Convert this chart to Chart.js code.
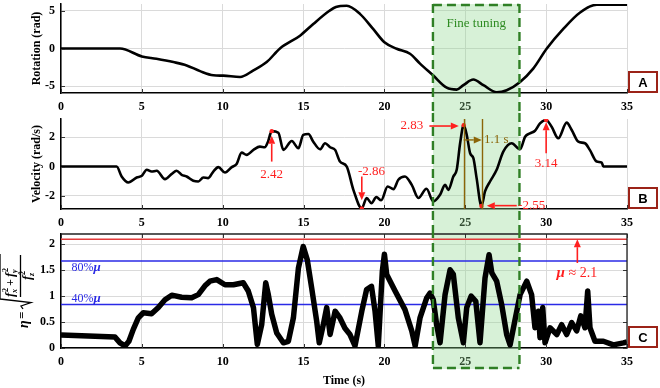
<!DOCTYPE html>
<html>
<head>
<meta charset="utf-8">
<title>Rotation, velocity and force ratio</title>
<script src="https://cdn.jsdelivr.net/npm/chart.js@4.4.1/dist/chart.umd.min.js"></script>
<style>
  html, body { margin: 0; padding: 0; background: #fff; }
  #wrap { position: relative; width: 660px; height: 388px; overflow: hidden; }
  #wrap canvas { position: absolute; left: 0; }
</style>
</head>
<body>
<div id="wrap">
  <canvas id="chartA" width="660" height="113" style="top:0"></canvas>
  <canvas id="chartB" width="660" height="116" style="top:113px"></canvas>
  <canvas id="chartC" width="660" height="159" style="top:229px"></canvas>
</div>
<script>
// tick labels
var timeTicks = [0, 5, 10, 15, 20, 25, 30, 35];
var rotTicks = [-5, 0, 5];
var velTicks = [-2, 0, 2];
var etaTicks = [0, 0.5, 1, 1.5, 2];

// panel A: rotation (rad)
var rotT = [0, 3.65, 5.0, 5.9, 6.95, 7.77, 8.6, 9.42, 10.04, 11.07, 11.9, 12.72, 13.54, 14.78, 15.6, 16.6, 17.0,
  17.67, 18.5, 19.3, 20.0, 20.76, 21.58, 22.2, 23.0, 23.85, 24.47, 24.88, 25.5, 26.12, 26.94, 27.56, 28.39,
  29.2, 30.04, 31.06, 32.1, 33.13, 35];
var rotV = [0, 0, -1.05, -1.36, -1.8, -2.24, -3.0, -3.55, -3.6, -3.78, -2.9, -1.8, 0, 1.7, 3.25, 5.0, 5.5,
  5.66, 4.56, 2.6, 0.83, -0.04, -0.7, -2.0, -3.55, -5.2, -5.45, -4.87, -4.12, -4.87, -5.8, -5.53, -4.43,
  -2.67, 0, 2.6, 4.78, 5.8, 5.8];

// panel B: velocity (rad/s)
var velT = [0, 3.44, 3.75, 4.16, 4.68, 5.0, 5.3, 5.6, 5.92, 6.43, 6.85, 7.15, 7.46, 7.77, 8.18, 8.49, 8.8, 9.1,
  9.42, 9.73, 10.14, 10.56, 10.86, 11.17, 11.48, 11.9, 12.3, 12.6, 12.8, 13.03, 13.44, 13.75, 14.27, 14.68,
  14.98, 15.3, 15.6, 16.02, 16.33, 16.64, 16.95, 17.25, 17.67, 18.08, 18.6, 18.9, 19.2, 19.5, 19.8, 20.2,
  20.56, 20.86, 21.27, 21.69, 22.1, 22.6, 23.02, 23.44, 23.75, 23.95, 24.26, 24.47, 24.68, 24.9, 25.09,
  25.3, 25.5, 25.7, 26.0, 26.22, 26.53, 26.94, 27.35, 27.87, 28.39, 28.7, 29.0, 29.31, 29.62, 30.0, 30.34,
  30.75, 31.27, 31.58, 31.99, 32.4, 32.7, 33.13, 33.44, 33.54, 35];
var velV = [0, 0, -0.68, -1.09, -0.75, -0.63, -0.22, -0.34, -0.29, -0.86, -0.5, -0.29, -0.56, -0.68, -0.97,
  -1.02, -0.75, -0.79, -0.34, -0.04, -0.41, -0.04, 0.18, 0.95, 0.8, 1.14, 1.36, 1.32, 1.7, 2.42, 2.31, 1.14,
  1.75, 1.25, 2.16, 2.22, 1.7, 1.18, 1.59, 1.32, 1.14, 0.34, 0, -1.59, -2.86, -2.15, -2.5, -2.09, -2.3,
  -1.36, -1.54, -0.9, -0.68, -1.25, -2.15, -1.52, -2.38, -1.93, -1.25, -1.59, -0.68, -0.22, 1.59, 2.83,
  2.16, 0.91, 0.57, -0.79, -2.7, -1.7, -1.02, -0.22, 1.02, 1.59, 1.18, 2.04, 2.27, 2.45, 2.95, 3.18, 2.72,
  1.93, 3.0, 2.5, 1.7, 1.59, 1.14, 0.34, 0.27, 0, 0];
// marked extremes
var peakT = [13.03, 18.6, 24.9, 26.0, 30.0];
var peakV = [2.42, -2.86, 2.83, -2.7, 3.18];

// panel C: eta
var etaT = [0, 1.69, 3.34, 3.65, 3.96, 4.2, 4.47, 4.78, 5.09, 5.6, 6.02, 6.43, 6.85, 7.46, 8.08, 8.49, 8.9,
  9.21, 9.63, 10.14, 10.66, 11.27, 11.58, 11.9, 12.14, 12.41, 12.66, 12.82, 13.03, 13.34, 13.75, 14.06,
  14.37, 14.68, 14.98, 15.23, 15.5, 15.81, 15.97, 16.22, 16.43, 16.64, 16.95, 17.25, 17.56, 17.87, 18.18,
  18.6, 18.9, 19.2, 19.42, 19.62, 19.87, 20.0, 20.14, 20.66, 21.27, 21.69, 21.9, 22.2, 22.62, 22.82, 23.02,
  23.23, 23.44, 23.75, 24.06, 24.26, 24.57, 24.88, 25.09, 25.36, 25.65, 25.91, 26.22, 26.47, 26.64, 26.94,
  27.25, 27.56, 27.77, 28.08, 28.39, 28.8, 29.1, 29.31, 29.52, 29.62, 29.79, 29.93, 30.24, 30.66, 30.96,
  31.27, 31.58, 31.89, 32.14, 32.4, 32.57, 32.71, 33.02, 33.54, 34.16, 34.78, 35];
var etaV = [0.25, 0.23, 0.21, 0.1, 0.04, 0.13, 0.36, 0.58, 0.68, 0.66, 0.78, 0.93, 1.02, 0.98, 0.97, 1.03, 1.2,
  1.29, 1.32, 1.22, 1.22, 1.26, 1.1, 0.78, 0.07, 0.45, 1.26, 1.03, 0.65, 0.29, 0.1, 0.13,
  0.58, 1.54, 1.96, 1.7, 1.16, 0.52, 0.1, 0.45, 0.78, 0.26, 0.71, 0.58, 0.38, 0.26, 0.04,
  0.71, 1.13, 1.19, 0.71, 0.04, 1.48, 1.81, 1.42, 1.1, 0.74, 0.33, 0.04, 0.58, 0.97, 1.06, 0.93,
  0.45, 0.1, 1.03, 1.51, 1.42, 0.58, 0.1, 0.78, 1.0, 0.9, 0.1, 1.35, 1.8, 1.45, 1.29,
  0.84, 0.26, 0.06, 0.55, 1.03, 1.29, 1.03, 0.39, 0.71, 0.2, 0.78, 0.1, 0.39, 0.26, 0.45,
  0.26, 0.49, 0.33, 0.62, 0.39, 1.1, 0.39, 0.13, 0.13, 0.06, 0.1, 0.12];
var mu = 2.1;
var mu80 = 1.68;
var mu40 = 0.84;

// fine tuning window (s)
var fineStart = 23.0;
var fineEnd = 28.35;

var SERIF = '"Liberation Serif", "Times New Roman", serif';
var RED = '#ff1f1f';
var BROWN = '#8b6508';
var BLUE = '#2a2ae6';

function pts(t, v) {
  return t.map(function (x, i) { return { x: x, y: v[i] }; });
}

function tickList(list) {
  return function (s) { s.ticks = list.map(function (v) { return { value: v }; }); };
}

function makeOptions(o) {
  return {
    responsive: false,
    animation: false,
    layout: { padding: { left: 0, right: 33, top: o.padTop, bottom: 0 } },
    plugins: { legend: { display: false }, tooltip: { enabled: false } },
    elements: { point: { radius: 0 } },
    scales: {
      x: {
        type: 'linear', min: 0, max: 35,
        afterBuildTicks: tickList(timeTicks),
        afterFit: function (s) { s.height = o.xHeight; s.paddingLeft = 0; s.paddingRight = 0; },
        grid: { color: '#dadada', drawTicks: false },
        border: { color: '#000', width: 1.5 },
        ticks: { padding: 7, color: '#000', font: { family: SERIF, size: 12, weight: 'bold' } },
        title: {
          display: !!o.xTitle, text: o.xTitle || '', color: '#000', padding: 0,
          font: { family: SERIF, size: 12, weight: 'bold' }
        }
      },
      y: {
        min: o.yMin, max: o.yMax,
        afterBuildTicks: tickList(o.yTicks),
        afterFit: function (s) { s.width = 61; s.paddingTop = 0; s.paddingBottom = 0; },
        grid: { color: '#dadada', drawTicks: false },
        border: { color: '#000', width: 1.5 },
        ticks: {
          padding: 6, color: '#000', font: { family: SERIF, size: 12, weight: 'bold' },
          callback: function (v) { return String(v); }
        },
        title: {
          display: !!o.yTitle, text: o.yTitle || '', color: '#000', padding: { top: 30, bottom: 0 },
          font: { family: SERIF, size: 12, weight: 'bold' }
        }
      }
    }
  };
}

function arrow(ctx, x1, y1, x2, y2, color, lw) {
  var ang = Math.atan2(y2 - y1, x2 - x1), hl = 8, hw = 3.5;
  var c = Math.cos(ang), s = Math.sin(ang);
  ctx.save();
  ctx.strokeStyle = color; ctx.fillStyle = color; ctx.lineWidth = lw || 1.6;
  ctx.beginPath(); ctx.moveTo(x1, y1); ctx.lineTo(x2 - hl * c, y2 - hl * s); ctx.stroke();
  ctx.beginPath(); ctx.moveTo(x2, y2);
  ctx.lineTo(x2 - hl * c + hw * s, y2 - hl * s - hw * c);
  ctx.lineTo(x2 - hl * c - hw * s, y2 - hl * s + hw * c);
  ctx.closePath(); ctx.fill();
  ctx.restore();
}

function text(ctx, str, x, y, color, font, align) {
  ctx.save();
  ctx.fillStyle = color; ctx.font = font;
  ctx.textAlign = align || 'center'; ctx.textBaseline = 'middle';
  ctx.fillText(str, x, y);
  ctx.restore();
}

// plain text followed by an italic mu
function muText(ctx, before, after, x, y, color, size, align) {
  var f1 = size + 'px ' + SERIF, f2 = 'bold italic ' + (size + 1) + 'px ' + SERIF;
  ctx.save();
  ctx.font = f1; var w1 = ctx.measureText(before).width, w3 = ctx.measureText(after).width;
  ctx.font = f2; var w2 = ctx.measureText('\u03bc').width;
  var x0 = align === 'center' ? x - (w1 + w2 + w3) / 2 : x;
  ctx.fillStyle = color; ctx.textAlign = 'left'; ctx.textBaseline = 'middle';
  ctx.font = f1; ctx.fillText(before, x0, y);
  ctx.font = f2; ctx.fillText('\u03bc', x0 + w1, y);
  ctx.font = f1; ctx.fillText(after, x0 + w1 + w2, y);
  ctx.restore();
}

function fTerm(ctx, x, y, sub) {
  ctx.font = 'bold italic 13px ' + SERIF; ctx.fillText('f', x, y);
  ctx.font = 'bold italic 8px ' + SERIF; ctx.fillText(sub, x + 4, y + 4);
  ctx.font = 'bold 8px ' + SERIF; ctx.fillText('2', x + 5, y - 5);
  return x + 10;
}

// eta = sqrt((fx^2 + fy^2) / fz^2), drawn rotated as the y title of panel C
function drawEtaTitle(ctx, ox, oy) {
  ctx.save();
  ctx.translate(ox, oy);
  ctx.rotate(-Math.PI / 2);
  ctx.fillStyle = '#000'; ctx.strokeStyle = '#000';
  ctx.textAlign = 'left'; ctx.textBaseline = 'middle';
  ctx.font = 'bold italic 14px ' + SERIF; ctx.fillText('\u03b7', 0, 4);
  ctx.font = 'bold 13px ' + SERIF; ctx.fillText('=', 9, 3);
  ctx.lineWidth = 1.3;
  ctx.beginPath();
  ctx.moveTo(19, 3); ctx.lineTo(22, 1); ctx.lineTo(25.5, 11); ctx.lineTo(29, -20); ctx.lineTo(74, -20);
  ctx.stroke();
  ctx.beginPath(); ctx.moveTo(31, 0.5); ctx.lineTo(73, 0.5); ctx.stroke();
  var x = fTerm(ctx, 31, -9, 'x');
  ctx.font = 'bold 12px ' + SERIF; ctx.fillText('+', x + 1, -9);
  fTerm(ctx, x + 10, -9, 'y');
  fTerm(ctx, 48, 8, 'z');
  ctx.restore();
}

function panelPlugin(cfg) {
  return {
    id: 'panel' + cfg.tag,
    beforeDatasetsDraw: function (chart) {
      var ctx = chart.ctx, a = chart.chartArea, xs = chart.scales.x;
      var x0 = xs.getPixelForValue(fineStart), x1 = xs.getPixelForValue(fineEnd);
      var top = cfg.fineTop === 'area' ? a.top : 0;
      var bottom = cfg.fineBottom || chart.height;
      ctx.save();
      ctx.fillStyle = 'rgba(140, 215, 140, 0.35)';
      ctx.fillRect(x0, top, x1 - x0, bottom - top);
      ctx.restore();
    },
    afterDatasetsDraw: function (chart) {
      var ctx = chart.ctx, a = chart.chartArea, xs = chart.scales.x, ys = chart.scales.y;
      ctx.save();
      ctx.strokeStyle = '#333'; ctx.lineWidth = 1;
      ctx.beginPath();
      xs.ticks.forEach(function (t) {
        var p = Math.round(xs.getPixelForValue(t.value)) + 0.5;
        ctx.moveTo(p, a.bottom); ctx.lineTo(p, a.bottom - 4);
        if (cfg.boxed) { ctx.moveTo(p, a.top); ctx.lineTo(p, a.top + 4); }
      });
      ys.ticks.forEach(function (t) {
        var p = Math.round(ys.getPixelForValue(t.value)) + 0.5;
        ctx.moveTo(a.left, p); ctx.lineTo(a.left + 4, p);
        if (cfg.boxed) { ctx.moveTo(a.right, p); ctx.lineTo(a.right - 4, p); }
      });
      ctx.stroke();
      if (cfg.boxed) {
        ctx.strokeStyle = '#222'; ctx.lineWidth = 1.3;
        ctx.beginPath();
        ctx.moveTo(a.left, a.top); ctx.lineTo(a.right, a.top); ctx.lineTo(a.right, a.bottom);
        ctx.stroke();
      }
      ctx.restore();
    },
    afterDraw: function (chart) {
      var ctx = chart.ctx, a = chart.chartArea, xs = chart.scales.x;
      // dashed border of the fine tuning window
      var x0 = xs.getPixelForValue(fineStart), x1 = xs.getPixelForValue(fineEnd);
      var top = cfg.fineTop === 'area' ? a.top : 0;
      var bottom = cfg.fineBottom || chart.height;
      ctx.save();
      ctx.strokeStyle = '#2f7f25'; ctx.lineWidth = 2.4; ctx.setLineDash([9, 5]);
      ctx.beginPath();
      ctx.moveTo(x0, top); ctx.lineTo(x0, bottom);
      ctx.moveTo(x1, top); ctx.lineTo(x1, bottom);
      if (cfg.fineTop === 'area') { ctx.moveTo(x0, top + 1); ctx.lineTo(x1, top + 1); }
      if (cfg.fineBottom) { ctx.moveTo(x0, bottom - 1); ctx.lineTo(x1, bottom - 1); }
      ctx.stroke();
      ctx.restore();

      if (cfg.annotate) cfg.annotate(chart);

      // panel tag
      var w = 30, h = 22, bx = a.right + 1, by = a.bottom - h;
      ctx.save();
      ctx.fillStyle = '#fff'; ctx.fillRect(bx, by, w, h);
      ctx.strokeStyle = '#9b2318'; ctx.lineWidth = 2; ctx.strokeRect(bx + 1, by + 1, w - 2, h - 2);
      ctx.fillStyle = '#000'; ctx.font = 'bold 13px "Liberation Sans", Arial, sans-serif';
      ctx.textAlign = 'center'; ctx.textBaseline = 'middle';
      ctx.fillText(cfg.tag, bx + w / 2, by + h / 2 + 1);
      ctx.restore();
    }
  };
}

function P(chart, t, v) {
  return [chart.scales.x.getPixelForValue(t), chart.scales.y.getPixelForValue(v)];
}

// ---- panel A
new Chart(document.getElementById('chartA'), {
  type: 'line',
  data: {
    datasets: [{
      data: pts(rotT, rotV), borderColor: '#000', borderWidth: 2.6,
      cubicInterpolationMode: 'monotone', pointRadius: 0
    }]
  },
  options: makeOptions({ padTop: 4, xHeight: 20, yMin: -5.9, yMax: 5.9, yTicks: rotTicks, yTitle: 'Rotation (rad)' }),
  plugins: [panelPlugin({
    tag: 'A', fineTop: 'area',
    annotate: function (chart) {
      var p = P(chart, (fineStart + fineEnd) / 2, 3.25);
      text(chart.ctx, 'Fine tuning', p[0], p[1], '#2e8b22', '13px ' + SERIF);
    }
  })]
});

// ---- panel B
new Chart(document.getElementById('chartB'), {
  type: 'line',
  data: {
    datasets: [{
      data: pts(peakT, peakV), showLine: false, pointRadius: 2.2,
      pointBackgroundColor: RED, pointBorderWidth: 0
    }, {
      data: pts(velT, velV), borderColor: '#000', borderWidth: 2.6,
      cubicInterpolationMode: 'monotone', pointRadius: 0
    }]
  },
  options: makeOptions({ padTop: 6, xHeight: 20, yMin: -2.9, yMax: 3.25, yTicks: velTicks, yTitle: 'Velocity (rad/s)' }),
  plugins: [panelPlugin({
    tag: 'B',
    annotate: function (chart) {
      var ctx = chart.ctx, a = chart.chartArea, f = '13px ' + SERIF, p, q;
      // 1.1 s interval between the peak and the trough
      ctx.save();
      ctx.strokeStyle = BROWN; ctx.lineWidth = 1.4;
      ctx.beginPath();
      [24.9, 26.02].forEach(function (t) {
        var x = Math.round(chart.scales.x.getPixelForValue(t)) + 0.5;
        ctx.moveTo(x, a.top); ctx.lineTo(x, a.bottom);
      });
      ctx.stroke();
      ctx.restore();
      p = P(chart, 24.9, 1.82); q = P(chart, 26.02, 1.82);
      arrow(ctx, p[0], p[1], q[0], q[1], BROWN, 1.4);
      p = P(chart, 26.15, 1.82); text(ctx, '1.1 s', p[0], p[1], BROWN, f, 'left');
      // red callouts
      p = P(chart, 13.03, 0.34); q = P(chart, 13.03, 2.1); arrow(ctx, p[0], p[1], q[0], q[1], RED);
      p = P(chart, 13.03, -0.56); text(ctx, '2.42', p[0], p[1], RED, f);
      p = P(chart, 18.6, -0.68); q = P(chart, 18.6, -2.31); arrow(ctx, p[0], p[1], q[0], q[1], RED);
      p = P(chart, 19.2, -0.34); text(ctx, '-2.86', p[0], p[1], RED, f);
      p = P(chart, 22.78, 2.77); q = P(chart, 24.6, 2.77); arrow(ctx, p[0], p[1], q[0], q[1], RED);
      p = P(chart, 21.69, 2.77); text(ctx, '2.83', p[0], p[1], RED, f);
      p = P(chart, 28.18, -2.67); q = P(chart, 26.33, -2.67); arrow(ctx, p[0], p[1], q[0], q[1], RED);
      p = P(chart, 29.1, -2.67); text(ctx, '-2.55', p[0], p[1], RED, f);
      p = P(chart, 30.0, 0.91); q = P(chart, 30.0, 3.02); arrow(ctx, p[0], p[1], q[0], q[1], RED);
      p = P(chart, 30.0, 0.23); text(ctx, '3.14', p[0], p[1], RED, f);
    }
  })]
});

// ---- panel C
new Chart(document.getElementById('chartC'), {
  type: 'line',
  data: {
    datasets: [{
      data: pts(etaT, etaV), borderColor: '#000', borderWidth: 5.5,
      borderJoinStyle: 'round', tension: 0, pointRadius: 0
    }, {
      data: pts([0, 35], [mu, mu]), borderColor: '#e23b3b', borderWidth: 1.5, pointRadius: 0
    }, {
      data: pts([0, 35], [mu80, mu80]), borderColor: BLUE, borderWidth: 1.5, pointRadius: 0
    }, {
      data: pts([0, 35], [mu40, mu40]), borderColor: BLUE, borderWidth: 1.5, pointRadius: 0
    }]
  },
  options: makeOptions({ padTop: 5, xHeight: 40, xTitle: 'Time (s)', yMin: 0, yMax: 2.2, yTicks: etaTicks }),
  plugins: [panelPlugin({
    tag: 'C', boxed: true, fineBottom: 140,
    annotate: function (chart) {
      var ctx = chart.ctx, p, q;
      p = P(chart, 0.65, 1.55); muText(ctx, '80%', '', p[0], p[1], BLUE, 12, 'left');
      p = P(chart, 0.65, 0.95); muText(ctx, '40%', '', p[0], p[1], BLUE, 12, 'left');
      p = P(chart, 31.93, 1.64); q = P(chart, 31.93, mu); arrow(ctx, p[0], p[1], q[0], q[1], RED);
      p = P(chart, 31.9, 1.45); muText(ctx, '', ' \u2248 2.1', p[0], p[1], RED, 14, 'center');
      drawEtaTitle(ctx, 20, 99);
    }
  })]
});
</script>
</body>
</html>
